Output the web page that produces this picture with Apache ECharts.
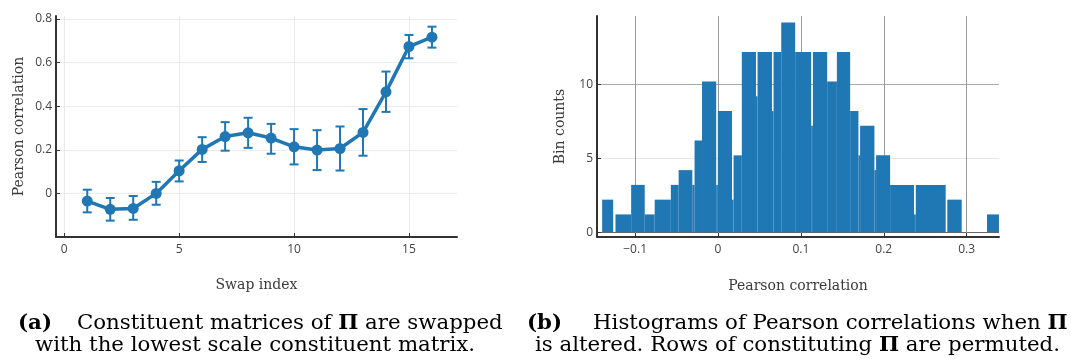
<!DOCTYPE html>
<html><head><meta charset="utf-8">
<script src="https://cdn.jsdelivr.net/npm/echarts@6/dist/echarts.min.js"></script>
<style>html,body{margin:0;padding:0;background:#fff}#c{width:1071px;height:360px}</style>
</head><body><div id="c"></div>
<script>
// (a) swap index vs Pearson correlation with error bars
const swapIndex = [1, 2, 3, 4, 5, 6, 7, 8, 9, 10, 11, 12, 13, 14, 15, 16];
const corrMean  = [-0.035, -0.073, -0.069, 0.000, 0.104, 0.202, 0.261, 0.278, 0.254, 0.214, 0.199, 0.206, 0.280, 0.466, 0.674, 0.717];
const corrLow   = [-0.087, -0.125, -0.121, -0.052, 0.055, 0.144, 0.196, 0.209, 0.182, 0.133, 0.107, 0.105, 0.173, 0.374, 0.620, 0.669];
const corrHigh  = [0.017, -0.021, -0.012, 0.053, 0.151, 0.258, 0.327, 0.347, 0.319, 0.295, 0.290, 0.307, 0.387, 0.559, 0.727, 0.765];

// (b) histogram rectangles: left edge, right edge, bar height (overlaid bins)
const binLeft  = [-0.1398, -0.1237, -0.1048, -0.0884, -0.0764, -0.0569, -0.0475, -0.0310, -0.0283, -0.0193, -0.0022, -0.0002, 0.0169, 0.0188, 0.0287, 0.0458, 0.0477, 0.0651, 0.0670, 0.0763, 0.0931, 0.1124, 0.1145, 0.1317, 0.1434, 0.1594, 0.1694, 0.1714, 0.1887, 0.1907, 0.2076, 0.2365, 0.2386, 0.2766, 0.3245];
const binRight = [-0.1265, -0.1048, -0.0884, -0.0764, -0.0569, -0.0475, -0.0310, -0.0283, -0.0193, -0.0022, -0.0002, 0.0169, 0.0188, 0.0287, 0.0458, 0.0477, 0.0651, 0.0670, 0.0763, 0.0931, 0.1124, 0.1145, 0.1317, 0.1434, 0.1594, 0.1694, 0.1714, 0.1887, 0.1907, 0.2076, 0.2365, 0.2386, 0.2747, 0.2940, 0.3389];
const binCount = [2.2, 1.2, 3.2, 1.2, 2.2, 3.2, 4.2, 3.2, 6.2, 10.2, 3.2, 8.2, 2.2, 5.2, 12.2, 9.2, 12.2, 8.2, 12.2, 14.2, 12.2, 7.2, 12.2, 10.2, 12.2, 8.2, 5.2, 7.2, 4.2, 5.2, 3.2, 1.2, 3.2, 2.2, 1.2];

const captionA = ['(a)', 'Constituent matrices of ', 'Π', ' are swapped', 'with the lowest scale constituent matrix.'];
const captionB = ['(b)', 'Histograms of Pearson correlations when ', 'Π', 'is altered. Rows of constituting ', 'Π', ' are permuted.'];

const BLUE = '#1f77b4';
const tickFont = {fontFamily: 'Open Sans', fontSize: 12, color: '#444'};
const nameFont = {fontFamily: 'DejaVu Serif', fontSize: 14, color: '#3a3a3a'};
const minus = v => String(v).replace('-', '\u2212');

const errData = swapIndex.map((x, i) => [x, corrLow[i], corrHigh[i]]);
const lineData = swapIndex.map((x, i) => [x, corrMean[i]]);
const histData = binLeft.map((l, i) => [l, binRight[i], binCount[i]]);

const chart = echarts.init(document.getElementById('c'), null, {renderer: 'canvas'});
const CAPF = 'DejaVu Serif', CAPS = 21.3;
const rich = {b: {fontFamily: CAPF, fontSize: CAPS, fontWeight: 'bold', color: '#111'}, n: {fontFamily: CAPF, fontSize: CAPS, color: '#111'}};

const axisLineStyle = {show: true, onZero: false, lineStyle: {color: '#333', width: 2}};
const tickStyle = {show: true, inside: true, length: 4, lineStyle: {color: '#333'}};

chart.setOption({
  animation: false,
  grid: [
    {left: 56, top: 16, width: 401, height: 221},
    {left: 597, top: 16, width: 402, height: 221}
  ],
  xAxis: [
    {gridIndex: 0, type: 'value', min: -0.36, max: 17.09, splitNumber: 4,
     axisLine: axisLineStyle, axisTick: tickStyle,
     axisLabel: Object.assign({margin: 7, showMinLabel: false, showMaxLabel: false}, tickFont),
     splitLine: {show: true, showMinLine: false, showMaxLine: false, lineStyle: {color: '#ebebeb'}},
     name: 'Swap index', nameLocation: 'middle', nameGap: 41, nameTextStyle: nameFont},
    {gridIndex: 1, type: 'value', min: -0.146, max: 0.339, splitNumber: 5,
     axisLine: axisLineStyle, axisTick: tickStyle,
     axisLabel: Object.assign({margin: 7, showMinLabel: false, showMaxLabel: false, formatter: v => minus(Math.round(v * 10) / 10)}, tickFont),
     splitLine: {show: true, showMinLine: false, showMaxLine: false, lineStyle: {color: '#999'}},
     name: 'Pearson correlation', nameLocation: 'middle', nameGap: 42, nameTextStyle: nameFont}
  ],
  yAxis: [
    {gridIndex: 0, type: 'value', min: -0.2, max: 0.814, splitNumber: 5,
     axisLine: axisLineStyle, axisTick: tickStyle,
     axisLabel: Object.assign({margin: 4, showMinLabel: false, showMaxLabel: false, formatter: v => minus(Math.round(v * 10) / 10)}, tickFont),
     splitLine: {show: true, showMinLine: false, showMaxLine: false, lineStyle: {color: '#ebebeb'}},
     name: 'Pearson correlation', nameLocation: 'middle', nameGap: 30, nameTextStyle: nameFont},
    {gridIndex: 1, type: 'value', min: -0.33, max: 14.64, splitNumber: 3,
     axisLine: axisLineStyle, axisTick: tickStyle,
     axisLabel: Object.assign({margin: 4, showMinLabel: false, showMaxLabel: false}, tickFont),
     splitLine: {show: true, showMinLine: false, showMaxLine: false, lineStyle: {color: ['#666', '#e6e6e6', '#aaa']}},
     name: 'Bin counts', nameLocation: 'middle', nameGap: 30, nameTextStyle: nameFont}
  ],
  series: [
    {type: 'custom', xAxisIndex: 0, yAxisIndex: 0, data: errData, encode: {x: 0, y: [1, 2]}, z: 2,
     renderItem: (params, api) => {
       const x = api.value(0), lo = api.value(1), hi = api.value(2);
       const a = api.coord([x, hi]), b = api.coord([x, lo]);
       const w = 4.5, st = {stroke: BLUE, lineWidth: 2};
       return {type: 'group', children: [
         {type: 'line', shape: {x1: a[0], y1: a[1], x2: b[0], y2: b[1]}, style: st},
         {type: 'line', shape: {x1: a[0] - w, y1: a[1], x2: a[0] + w, y2: a[1]}, style: st},
         {type: 'line', shape: {x1: b[0] - w, y1: b[1], x2: b[0] + w, y2: b[1]}, style: st}
       ]};
     }},
    {type: 'line', xAxisIndex: 0, yAxisIndex: 0, data: lineData, z: 3,
     symbol: 'circle', symbolSize: 11, showSymbol: true,
     lineStyle: {color: BLUE, width: 3.5}, itemStyle: {color: BLUE}},
    {type: 'custom', xAxisIndex: 1, yAxisIndex: 1, data: histData, encode: {x: [0, 1], y: 2}, z: 2,
     renderItem: (params, api) => {
       const p0 = api.coord([api.value(0), api.value(2)]);
       const p1 = api.coord([api.value(1), 0]);
       return {type: 'rect', shape: {x: p0[0], y: p0[1], width: p1[0] - p0[0], height: p1[1] - p0[1]},
               style: {fill: BLUE}};
     }}
  ],
  graphic: [
    {type: 'text', left: 18, top: 313, style: {text: '{b|' + captionA[0] + '}', rich}},
    {type: 'text', left: 77, top: 313, style: {text: '{n|' + captionA[1] + '}{b|' + captionA[2] + '}{n|' + captionA[3] + '}', rich}},
    {type: 'text', left: 35, top: 335, style: {text: '{n|' + captionA[4] + '}', rich}},
    {type: 'text', left: 527, top: 313, style: {text: '{b|' + captionB[0] + '}', rich}},
    {type: 'text', left: 593, top: 313, style: {text: '{n|' + captionB[1] + '}{b|' + captionB[2] + '}', rich}},
    {type: 'text', left: 535, top: 335, style: {text: '{n|' + captionB[3] + '}{b|' + captionB[4] + '}{n|' + captionB[5] + '}', rich}}
  ]
});
</script></body></html>
